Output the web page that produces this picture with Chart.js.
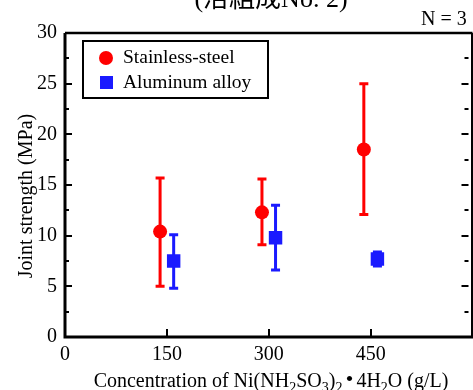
<!DOCTYPE html>
<html>
<head>
<meta charset="utf-8">
<script src="https://cdn.jsdelivr.net/npm/chart.js@4.4.0/dist/chart.umd.min.js"></script>
<style>
  html, body { margin: 0; padding: 0; background: #fff; overflow: hidden; }
  #wrap { width: 482px; height: 390px; }
</style>
</head>
<body>
<div id="wrap"><canvas id="chart" width="482" height="390"></canvas></div>
<script>
// data
var concentrations = [150, 300, 450];
var steelMean = [10.4, 12.3, 18.5];
var steelLow  = [5.0, 9.1, 12.1];
var steelHigh = [15.7, 15.6, 25.0];
var alMean = [7.5, 9.8, 7.7];
var alLow  = [4.8, 6.6, 7.0];
var alHigh = [10.1, 13.0, 8.4];
var yTicks = [0, 5, 10, 15, 20, 25, 30];
var xTicks = [0, 150, 300, 450];

var serif = '"Liberation Serif", "Times New Roman", serif';
var dodge = 10; // points are shifted a bit left / right of each concentration

function pts(means, shift) {
    return concentrations.map(function (c, i) { return { x: c + shift, y: means[i] }; });
}

var errorBars = {
    id: 'errorBars',
    beforeDatasetsDraw: function (chart) {
        var ctx = chart.ctx, xs = chart.scales.x, ys = chart.scales.y;
        chart.data.datasets.forEach(function (ds) {
            ctx.save();
            ctx.strokeStyle = ds.backgroundColor;
            ctx.lineWidth = 3;
            ds.data.forEach(function (p, i) {
                var px = xs.getPixelForValue(p.x);
                var lo = ys.getPixelForValue(ds.low[i]);
                var hi = ys.getPixelForValue(ds.high[i]);
                ctx.beginPath();
                ctx.moveTo(px, lo); ctx.lineTo(px, hi);
                ctx.moveTo(px - 4.5, lo); ctx.lineTo(px + 4.5, lo);
                ctx.moveTo(px - 4.5, hi); ctx.lineTo(px + 4.5, hi);
                ctx.stroke();
            });
            ctx.restore();
        });
    }
};

var frame = {
    id: 'frame',
    afterDraw: function (chart) {
        var ctx = chart.ctx, a = chart.chartArea, ys = chart.scales.y, xs = chart.scales.x;
        ctx.save();
        ctx.strokeStyle = '#000';
        ctx.lineWidth = 3;
        ctx.beginPath();
        ctx.moveTo(a.left, a.top); ctx.lineTo(a.left, a.bottom); ctx.lineTo(a.right, a.bottom); ctx.lineTo(a.right, a.top);
        ctx.stroke();
        ctx.lineWidth = 2.5;
        ctx.beginPath();
        ctx.moveTo(a.left, a.top); ctx.lineTo(a.right, a.top);
        ctx.stroke();
        // inward ticks
        ctx.lineWidth = 2;
        ctx.beginPath();
        for (var v = 0; v <= 30; v += 2.5) {
            var py = Math.round(ys.getPixelForValue(v));
            var len = (v % 5 === 0) ? 7 : 4;
            ctx.moveTo(a.left, py); ctx.lineTo(a.left + len, py);
            ctx.moveTo(a.right - 4, py); ctx.lineTo(a.right - 4 - len, py);
        }
        [150, 300, 450].forEach(function (t) {
            var px = Math.round(xs.getPixelForValue(t));
            ctx.moveTo(px, a.bottom); ctx.lineTo(px, a.bottom - 8);
        });
        ctx.stroke();

        // legend box
        ctx.lineWidth = 2;
        ctx.strokeRect(83, 41, 185, 57);
        ctx.font = '19.5px ' + serif;
        ctx.fillStyle = '#000';
        ctx.textBaseline = 'middle';
        chart.data.datasets.forEach(function (ds, i) {
            var y = 58 + i * 25;
            ctx.fillStyle = ds.backgroundColor;
            ctx.beginPath();
            if (ds.pointStyle === 'rect') ctx.rect(100, y - 7, 13, 13);
            else ctx.arc(106, y, 7, 0, Math.PI * 2);
            ctx.fill();
            ctx.fillStyle = '#000';
            ctx.fillText(ds.label, 123, y);
        });

        // N = 3
        ctx.font = '20px ' + serif;
        ctx.textAlign = 'left';
        ctx.fillText('N = 3', 421, 20);

        // cut-off title at the very top
        ctx.font = '26px ' + serif + ', "Noto Sans CJK JP"';
        ctx.textAlign = 'center';
        ctx.textBaseline = 'bottom';
        ctx.fillText('(浴組成No. 2)', 271, 13);

        // y axis title
        ctx.save();
        ctx.translate(27, 196);
        ctx.rotate(-Math.PI / 2);
        ctx.textAlign = 'center';
        ctx.textBaseline = 'middle';
        ctx.font = '20px ' + serif;
        ctx.fillText('Joint strength (MPa)', 0, 0);
        ctx.restore();

        // x axis title with subscripts
        var parts = [
            ['Concentration of Ni(NH', 0], ['2', 1], ['SO', 0], ['3', 1], [')', 0], ['2', 1],
            ['・', 2], ['4H', 0], ['2', 1], ['O (g/L)', 0]
        ];
        var fonts = ['20px ' + serif, '14px ' + serif, 'bold 20px "Noto Sans CJK JP"'];
        var total = 0;
        parts.forEach(function (p) { ctx.font = fonts[p[1]]; total += ctx.measureText(p[0]).width - (p[1] === 2 ? 6 : 0); });
        var x = 271 - total / 2, base = 387;
        ctx.textAlign = 'left';
        ctx.textBaseline = 'alphabetic';
        parts.forEach(function (p) {
            ctx.font = fonts[p[1]];
            var w = ctx.measureText(p[0]).width;
            if (p[1] === 2) { ctx.fillText(p[0], x - 3, base - 1); w -= 6; }
            else ctx.fillText(p[0], x, base + (p[1] === 1 ? 5 : 0));
            x += w;
        });
        ctx.restore();
    }
};

new Chart(document.getElementById('chart'), {
    type: 'scatter',
    data: {
        datasets: [{
            label: 'Stainless-steel',
            data: pts(steelMean, -dodge),
            low: steelLow, high: steelHigh,
            backgroundColor: '#ff0000',
            borderColor: '#ff0000',
            pointStyle: 'circle',
            pointRadius: 7,
            borderWidth: 0
        }, {
            label: 'Aluminum alloy',
            data: pts(alMean, dodge),
            low: alLow, high: alHigh,
            backgroundColor: '#1a1aff',
            borderColor: '#1a1aff',
            pointStyle: 'rect',
            pointRadius: 9.5,
            borderWidth: 0
        }]
    },
    options: {
        responsive: false,
        animation: false,
        layout: { padding: { top: 33, right: 5, left: 0, bottom: 0 } },
        plugins: { legend: { display: false }, tooltip: { enabled: false } },
        scales: {
            x: {
                type: 'linear', min: 0, max: 600,
                grid: { display: false, drawTicks: false }, border: { display: false },
                afterFit: function (s) { s.height = 53; },
                afterBuildTicks: function (s) { s.ticks = xTicks.map(function (v) { return { value: v }; }); },
                ticks: { color: '#000', padding: 6, font: { family: serif, size: 20 } }
            },
            y: {
                min: 0, max: 30,
                grid: { display: false, drawTicks: false }, border: { display: false },
                afterFit: function (s) { s.width = 65; },
                afterBuildTicks: function (s) { s.ticks = yTicks.map(function (v) { return { value: v }; }); },
                ticks: { color: '#000', padding: 8, font: { family: serif, size: 20 } }
            }
        }
    },
    plugins: [errorBars, frame]
});
</script>
</body>
</html>
